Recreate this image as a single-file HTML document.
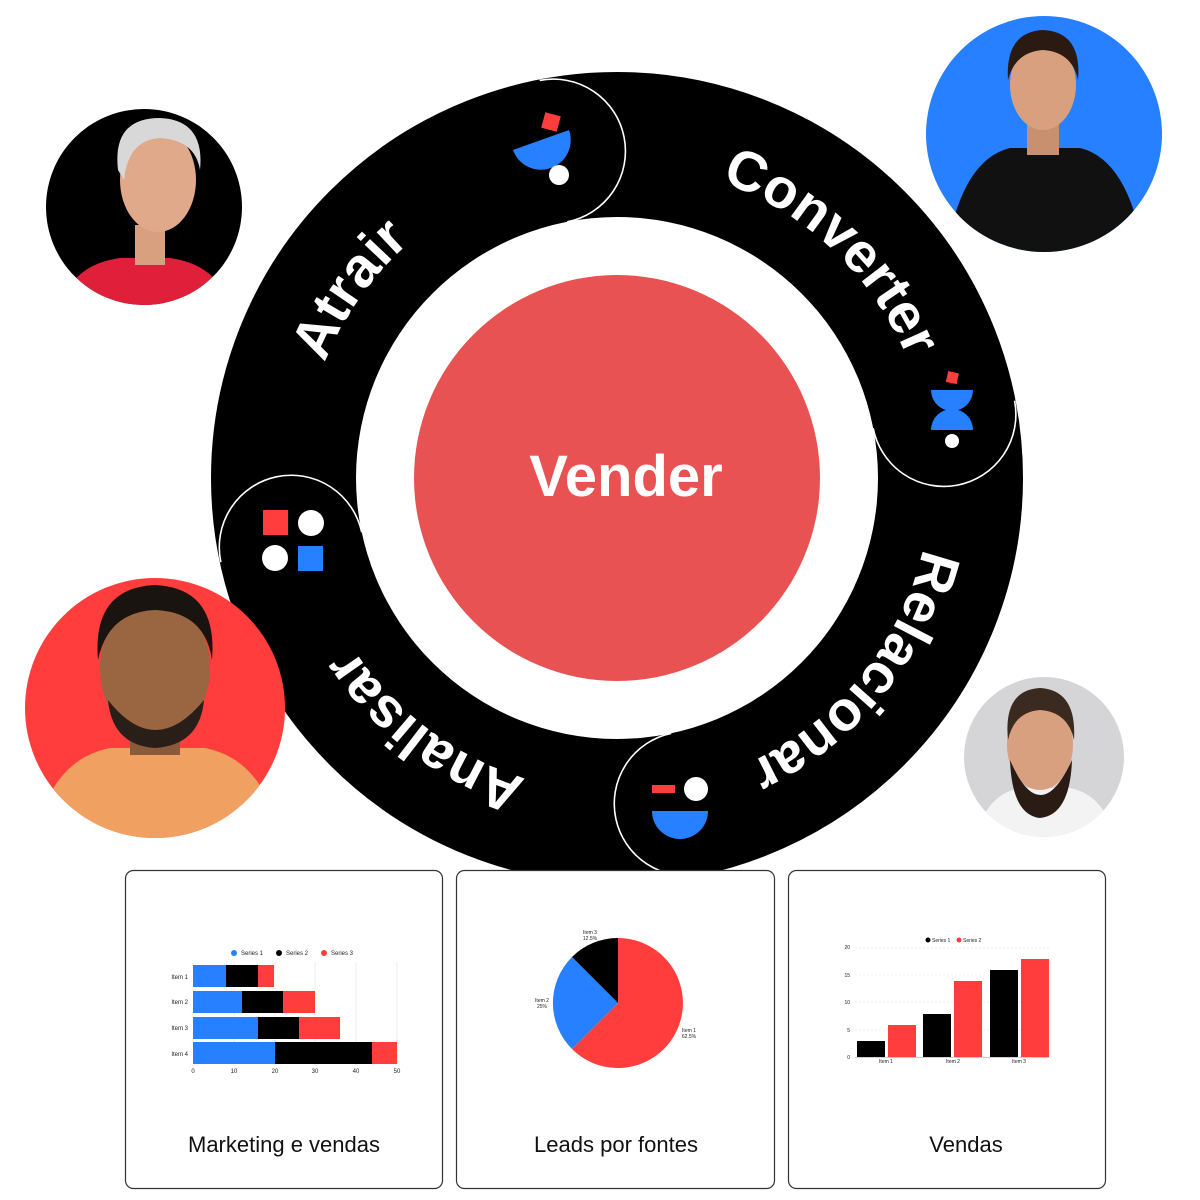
<!DOCTYPE html>
<html><head><meta charset="utf-8"><style>
html,body{margin:0;padding:0;background:#fff;}
svg{display:block;}
text{font-family:"Liberation Sans",sans-serif;}
</style></head><body>
<svg width="1200" height="1200" viewBox="0 0 1200 1200" xmlns="http://www.w3.org/2000/svg">
<defs>
<path id="tp" d="M617,164 A314,314 0 1 1 616.99,164 Z"/>
<clipPath id="c1"><circle cx="144" cy="207" r="98"/></clipPath>
<clipPath id="c2"><circle cx="1044" cy="134" r="118"/></clipPath>
<clipPath id="c3"><circle cx="155" cy="708" r="130"/></clipPath>
<clipPath id="c4"><circle cx="1044" cy="757" r="80"/></clipPath>
</defs>

<circle cx="617" cy="478" r="333" fill="none" stroke="#000" stroke-width="146"/>
<circle cx="617" cy="478" r="261" fill="#fff"/>
<g fill="none" stroke="#fff" stroke-width="1.6">
<path d="M617,73 A72,72 0 0 1 617,217" transform="rotate(-11 617 478)"/>
<path d="M617,73 A72,72 0 0 1 617,217" transform="rotate(79 617 478)"/>
<path d="M617,73 A72,72 0 0 1 617,217" transform="rotate(168 617 478)"/>
<path d="M617,73 A72,72 0 0 1 617,217" transform="rotate(258 617 478)"/>
</g>
<circle cx="617" cy="478" r="203" fill="#E85252"/>
<text x="626" y="496" font-size="58" fill="#fff" text-anchor="middle" font-weight="bold">Vender</text>

<g font-size="56" fill="#fff" font-weight="bold">
<text><textPath href="#tp" startOffset="1672" text-anchor="middle">Atrair</textPath></text>
<text><textPath href="#tp" startOffset="238" text-anchor="middle">Converter</textPath></text>
<text><textPath href="#tp" startOffset="707" text-anchor="middle">Relacionar</textPath></text>
<text><textPath href="#tp" startOffset="1189" text-anchor="middle">Analisar</textPath></text>
</g>

<rect x="543" y="114" width="16" height="16" fill="#FF3D3D" transform="rotate(15 551 122)"/>
<path d="M513,150 L569,130 A28,28 0 0 1 513,150 Z" fill="#2680FF"/>
<circle cx="559" cy="175" r="10" fill="#fff"/>

<rect x="947" y="372" width="11" height="11" fill="#FF3D3D" transform="rotate(12 952 377)"/>
<path d="M931,390 L973,390 A21,21 0 0 1 931,390 Z" fill="#2680FF"/>
<path d="M931,430 L973,430 A21,21 0 0 0 931,430 Z" fill="#2680FF"/>
<circle cx="952" cy="441" r="7" fill="#fff"/>

<rect x="652" y="785" width="23" height="8" fill="#FF3D3D"/>
<circle cx="696" cy="789" r="12" fill="#fff"/>
<path d="M652,811 L708,811 A28,28 0 0 1 652,811 Z" fill="#2680FF"/>

<rect x="263" y="510" width="25" height="25" fill="#FF3D3D"/>
<circle cx="311" cy="523" r="13" fill="#fff"/>
<circle cx="275" cy="558" r="13" fill="#fff"/>
<rect x="298" y="546" width="25" height="25" fill="#2680FF"/>

<g clip-path="url(#c1)">
<rect x="40" y="100" width="210" height="210" fill="#000"/>
<path d="M60,310 Q70,265 120,258 L170,258 Q220,265 230,310 Z" fill="#E0203A"/>
<rect x="135" y="225" width="30" height="40" fill="#d9a080"/>
<ellipse cx="158" cy="180" rx="38" ry="52" fill="#e0a98a"/>
<path d="M118,170 Q112,118 160,118 Q205,120 200,170 Q195,140 160,138 Q128,140 124,180 Z" fill="#d8d8d8"/>
</g>
<g clip-path="url(#c2)">
<rect x="920" y="10" width="250" height="250" fill="#2680FF"/>
<path d="M945,260 Q960,160 1010,148 L1080,148 Q1130,160 1145,260 Z" fill="#111"/>
<rect x="1027" y="120" width="32" height="35" fill="#c99070"/>
<ellipse cx="1043" cy="85" rx="33" ry="45" fill="#d9a080"/>
<path d="M1008,80 Q1005,32 1043,30 Q1082,32 1078,80 Q1072,52 1043,50 Q1015,52 1008,80 Z" fill="#2a1a12"/>
</g>
<g clip-path="url(#c3)">
<rect x="20" y="575" width="270" height="270" fill="#FF3D3D"/>
<path d="M35,840 Q50,760 110,748 L205,748 Q265,760 280,840 Z" fill="#f0a060"/>
<rect x="130" y="700" width="50" height="55" fill="#8a5a3a"/>
<ellipse cx="155" cy="668" rx="55" ry="70" fill="#9a6642"/>
<path d="M98,660 Q92,588 155,585 Q218,588 212,660 Q205,612 155,610 Q108,612 98,660 Z" fill="#1a1410"/>
<path d="M108,700 Q155,760 204,700 Q200,745 155,748 Q112,745 108,700 Z" fill="#2a1e18"/>
</g>
<g clip-path="url(#c4)">
<rect x="960" y="675" width="170" height="170" fill="#d5d5d8"/>
<path d="M975,840 Q985,795 1020,788 L1070,788 Q1105,795 1115,840 Z" fill="#f3f3f3"/>
<ellipse cx="1040" cy="745" rx="33" ry="45" fill="#d9a080"/>
<path d="M1008,740 Q1003,690 1040,688 Q1077,690 1074,740 Q1068,712 1040,710 Q1014,712 1008,740 Z" fill="#3a2a20"/>
<path d="M1010,760 Q1040,830 1072,760 Q1070,815 1040,818 Q1012,815 1010,760 Z" fill="#2a1c14"/>
</g>

<g fill="#fff" stroke="#333" stroke-width="1.2">
<rect x="125.5" y="870.5" width="317" height="318" rx="8"/>
<rect x="456.5" y="870.5" width="318" height="318" rx="8"/>
<rect x="788.5" y="870.5" width="317" height="318" rx="8"/>
</g>
<g font-size="22" fill="#111" text-anchor="middle">
<text x="284" y="1152">Marketing e vendas</text>
<text x="616" y="1152">Leads por fontes</text>
<text x="966" y="1152">Vendas</text>
</g>

<g stroke="#eee" stroke-width="1">
<line x1="234" y1="962" x2="234" y2="1066"/><line x1="275" y1="962" x2="275" y2="1066"/>
<line x1="315" y1="962" x2="315" y2="1066"/><line x1="356" y1="962" x2="356" y2="1066"/><line x1="397" y1="962" x2="397" y2="1066"/>
</g>
<g font-size="6" fill="#222">
<circle cx="234" cy="953" r="3" fill="#2680FF"/><text x="241" y="955">Series 1</text>
<circle cx="279" cy="953" r="3" fill="#000"/><text x="286" y="955">Series 2</text>
<circle cx="324" cy="953" r="3" fill="#FF3D3D"/><text x="331" y="955">Series 3</text>
<text x="188" y="979" text-anchor="end">Item 1</text>
<text x="188" y="1004" text-anchor="end">Item 2</text>
<text x="188" y="1030" text-anchor="end">Item 3</text>
<text x="188" y="1056" text-anchor="end">Item 4</text>
<text x="193" y="1073" text-anchor="middle">0</text><text x="234" y="1073" text-anchor="middle">10</text>
<text x="275" y="1073" text-anchor="middle">20</text><text x="315" y="1073" text-anchor="middle">30</text>
<text x="356" y="1073" text-anchor="middle">40</text><text x="397" y="1073" text-anchor="middle">50</text>
</g>
<rect x="193" y="965" width="33" height="22" fill="#2680FF"/><rect x="226" y="965" width="32" height="22" fill="#000"/><rect x="258" y="965" width="16" height="22" fill="#FF3D3D"/>
<rect x="193" y="991" width="49" height="22" fill="#2680FF"/><rect x="242" y="991" width="41" height="22" fill="#000"/><rect x="283" y="991" width="32" height="22" fill="#FF3D3D"/>
<rect x="193" y="1017" width="65" height="22" fill="#2680FF"/><rect x="258" y="1017" width="41" height="22" fill="#000"/><rect x="299" y="1017" width="41" height="22" fill="#FF3D3D"/>
<rect x="193" y="1042" width="82" height="22" fill="#2680FF"/><rect x="275" y="1042" width="97" height="22" fill="#000"/><rect x="372" y="1042" width="25" height="22" fill="#FF3D3D"/>

<path d="M618,1003 L618,938 A65,65 0 1 1 572,1049 Z" fill="#FF3D3D"/>
<path d="M618,1003 L572,1049 A65,65 0 0 1 572,957 Z" fill="#2680FF"/>
<path d="M618,1003 L572,957 A65,65 0 0 1 618,938 Z" fill="#000"/>
<g font-size="5" fill="#222" text-anchor="middle">
<text x="590" y="934">Item 3</text><text x="590" y="940">12.5%</text>
<text x="542" y="1002">Item 2</text><text x="542" y="1008">25%</text>
<text x="689" y="1032">Item 1</text><text x="689" y="1038">62.5%</text>
</g>

<g stroke="#eee" stroke-width="1" stroke-dasharray="2,2">
<line x1="855" y1="948" x2="1050" y2="948"/><line x1="855" y1="975" x2="1050" y2="975"/>
<line x1="855" y1="1002" x2="1050" y2="1002"/><line x1="855" y1="1030" x2="1050" y2="1030"/>
</g>
<g font-size="5" fill="#222">
<circle cx="928" cy="940" r="2.5" fill="#000"/><text x="932" y="942">Series 1</text>
<circle cx="959" cy="940" r="2.5" fill="#FF3D3D"/><text x="963" y="942">Series 2</text>
<text x="850" y="949" text-anchor="end">20</text><text x="850" y="977" text-anchor="end">15</text>
<text x="850" y="1004" text-anchor="end">10</text><text x="850" y="1032" text-anchor="end">5</text><text x="850" y="1059" text-anchor="end">0</text>
<text x="886" y="1063" text-anchor="middle">Item 1</text><text x="953" y="1063" text-anchor="middle">Item 2</text><text x="1019" y="1063" text-anchor="middle">Item 3</text>
</g>
<rect x="857" y="1041" width="28" height="16" fill="#000"/><rect x="888" y="1025" width="28" height="32" fill="#FF3D3D"/>
<rect x="923" y="1014" width="28" height="43" fill="#000"/><rect x="954" y="981" width="28" height="76" fill="#FF3D3D"/>
<rect x="990" y="970" width="28" height="87" fill="#000"/><rect x="1021" y="959" width="28" height="98" fill="#FF3D3D"/>
<line x1="855" y1="1057.5" x2="1050" y2="1057.5" stroke="#ccc" stroke-width="1"/>
</svg>
</body></html>
